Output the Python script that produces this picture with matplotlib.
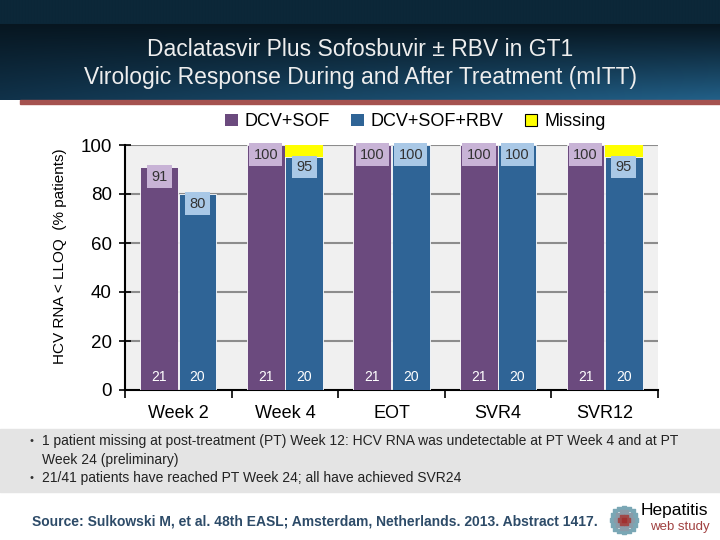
import matplotlib
matplotlib.use("Agg")
import matplotlib.pyplot as plt
import numpy as np
from matplotlib.patches import Rectangle, Patch

categories = ["Week 2", "Week 4", "EOT", "SVR4", "SVR12"]
dcv_sof = [91, 100, 100, 100, 100]
dcv_sof_rbv = [80, 95, 100, 100, 95]
missing = [0, 5, 0, 0, 5]
n_sof = [21, 21, 21, 21, 21]
n_rbv = [20, 20, 20, 20, 20]
series_names = ["DCV+SOF", "DCV+SOF+RBV", "Missing"]
yticks = [0, 20, 40, 60, 80, 100]

PURPLE = "#6b4a7e"
BLUE = "#2f6496"
YELLOW = "#ffff00"
LPURPLE = "#c8b3d6"
LBLUE = "#a9c8e6"

plt.rcParams['font.family'] = ['Liberation Sans', 'DejaVu Sans']

fig = plt.figure(figsize=(7.2, 5.4), dpi=100)
W, H = 720, 540

def fy(y):
    return 1 - y / H

# Header gradient
hax = fig.add_axes([0, fy(100), 1, 100 / H])
ny, nx = 100, 240
yy, xx = np.mgrid[0:1:ny * 1j, 0:1:nx * 1j]
band = np.array([0x0c, 0x27, 0x38]) / 255
dark = np.array([0x07, 0x16, 0x20]) / 255
mid = np.array([0x10, 0x32, 0x4a]) / 255
bright = np.array([0x22, 0x60, 0x88]) / 255
t = np.clip((yy - 0.24) / 0.76, 0, 1)[..., None]
xs = xx[..., None]
img = dark * (1 - t) + mid * t
img = img * (1 - 0.5 * xs * t) + bright * (0.5 * xs * t) + (bright - mid) * (t ** 2 * xs * 0.5)
img = np.clip(img, 0, 1)
img[yy < 0.24] = band
hax.imshow(img, aspect='auto', extent=[0, 1, 0, 1], origin='upper')
hax.set_axis_off()
fig.patches.append(Rectangle((20 / W, fy(104)), 1 - 20 / W, 4 / H,
                             transform=fig.transFigure, color="#a5524f", zorder=5))
fig.text(0.5, fy(50), "Daclatasvir Plus Sofosbuvir \u00b1 RBV in GT1", ha='center', va='center',
         color='#eeeeee', fontsize=16.5)
fig.text(0.5, fy(78), "Virologic Response During and After Treatment (mITT)", ha='center', va='center',
         color='#eeeeee', fontsize=16.5)

# Main axes
L, R, T, B = 125, 658, 145, 390
ax = fig.add_axes([L / W, fy(B), (R - L) / W, (B - T) / H])
ax.set_facecolor("#f0f0f0")
x = np.arange(len(categories))
bw = 0.355
off = 0.18
ax.bar(x - off, dcv_sof, bw, color=PURPLE, edgecolor='white', linewidth=0.6, zorder=3)
ax.bar(x + off, dcv_sof_rbv, bw, color=BLUE, edgecolor='white', linewidth=0.6, zorder=3)
ax.bar(x + off, missing, bw, bottom=dcv_sof_rbv, color=YELLOW, edgecolor='none', zorder=3)

for i in range(len(categories)):
    ax.text(x[i] - off, dcv_sof[i] - 4, str(dcv_sof[i]), ha='center', va='center', fontsize=10.5,
            color='#333333', zorder=5,
            bbox=dict(boxstyle='square,pad=0.3', fc=LPURPLE, ec='none'))
    ax.text(x[i] + off, dcv_sof_rbv[i] - 4, str(dcv_sof_rbv[i]), ha='center', va='center', fontsize=10.5,
            color='#333333', zorder=5,
            bbox=dict(boxstyle='square,pad=0.3', fc=LBLUE, ec='none'))
    ax.text(x[i] - off, 5.5, str(n_sof[i]), ha='center', va='center', fontsize=10, color='white', zorder=5)
    ax.text(x[i] + off, 5.5, str(n_rbv[i]), ha='center', va='center', fontsize=10, color='white', zorder=5)

ax.set_xlim(-0.5, 4.5)
ax.set_ylim(0, 100)
ax.set_yticks(yticks)
ax.set_yticklabels([str(v) for v in yticks], fontsize=13.5)
for v in yticks[1:]:
    ax.axhline(v, color='#8c8c8c', linewidth=1.5, zorder=1)
ax.set_xticks(np.arange(-0.5, 5.0, 1.0))
ax.set_xticklabels([])
ax.set_xticks(x, minor=True)
ax.set_xticklabels(categories, minor=True, fontsize=13)
ax.tick_params(axis='x', which='minor', length=0, pad=11)
ax.tick_params(axis='x', which='major', direction='out', length=6, width=1.2)
ax.tick_params(axis='y', direction='inout', length=9, width=1.2, pad=5)
for s in ['top', 'right']:
    ax.spines[s].set_visible(False)
for s in ['left', 'bottom']:
    ax.spines[s].set_linewidth(1.5)
    ax.spines[s].set_color('black')
ax.set_ylabel("HCV RNA < LLOQ  (% patients)", fontsize=11)
ax.yaxis.set_label_coords(-0.108, (390 - 256) / 245)

handles = [Patch(facecolor=PURPLE, edgecolor='none'),
           Patch(facecolor=BLUE, edgecolor='none'),
           Patch(facecolor=YELLOW, edgecolor='black', linewidth=0.8)]
ax.legend(handles, series_names, loc='center', bbox_to_anchor=(0.545, 1.095), ncol=3,
          frameon=False, fontsize=13, handlelength=0.7, handleheight=0.7, handletextpad=0.4,
          columnspacing=1.15)

# Bottom notes box
fig.patches.append(Rectangle((0, fy(492)), 1, (492 - 429) / H, transform=fig.transFigure,
                             color="#e4e4e4", zorder=0))
fig.text(30 / W, fy(441), "\u2022", fontsize=8, va='center', color='#333333')
fig.text(42 / W, fy(441), "1 patient missing at post-treatment (PT) Week 12: HCV RNA was undetectable at PT Week 4 and at PT",
         fontsize=10, va='center', color='#222222')
fig.text(42 / W, fy(460), "Week 24 (preliminary)", fontsize=10, va='center', color='#222222')
fig.text(30 / W, fy(478), "\u2022", fontsize=8, va='center', color='#333333')
fig.text(42 / W, fy(478), "21/41 patients have reached PT Week 24; all have achieved SVR24",
         fontsize=10, va='center', color='#222222')

fig.text(32 / W, fy(521), "Source: Sulkowski M, et al. 48th EASL; Amsterdam, Netherlands. 2013. Abstract 1417.",
         fontsize=10, fontweight='bold', va='center', color='#2d4b68')

# Logo
lax = fig.add_axes([608 / W, fy(536), 32 / W, 32 / H])
for r, n, c in [(1.0, 16, '#7aa7b5'), (0.65, 10, '#8a9ba8'), (0.32, 6, '#a04848')]:
    a = np.linspace(0, 2 * np.pi, n, endpoint=False)
    lax.scatter(r * np.cos(a), r * np.sin(a), s=5, marker='s', color=c)
lax.scatter([0], [0], s=8, color='#a03030', marker='s')
lax.set_xlim(-1.3, 1.3)
lax.set_ylim(-1.3, 1.3)
lax.set_axis_off()
fig.text(641 / W, fy(511), "Hepatitis", fontsize=12.5, va='center', color='black')
fig.text(650 / W, fy(527), "web study", fontsize=9.5, va='center', color='#a04040')

fig.savefig("out.png", dpi=100)
